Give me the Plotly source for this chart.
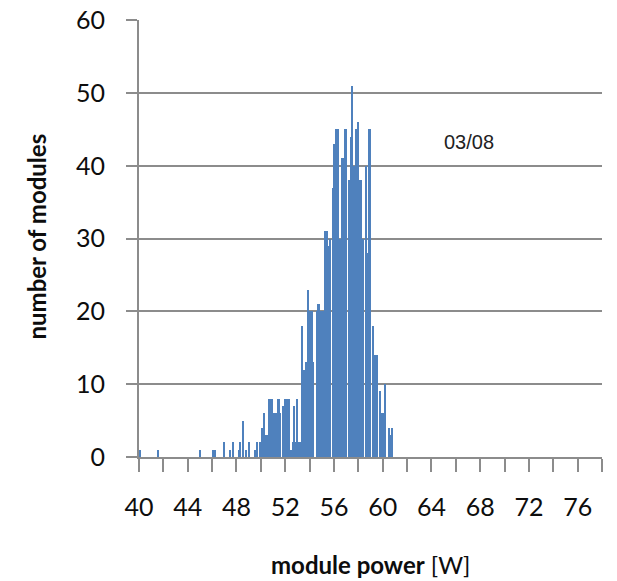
import plotly.graph_objects as go

# module power bins [W] (0.1 W resolution) and number of modules in each bin
power = [
    40.1, 41.6, 45.0, 46.1, 46.2, 47.0, 47.5, 47.7, 48.2, 48.3, 48.5, 48.8, 49.0,
    49.5, 49.6, 49.7, 49.9, 50.1, 50.3, 50.4, 50.5, 50.7, 50.8, 50.9, 51.0,
    51.2, 51.3, 51.4, 51.5, 51.6, 51.8, 51.9, 52.0, 52.1, 52.2, 52.3,
    52.5, 52.6, 52.7, 52.8, 52.9, 53.0, 53.1, 53.2, 53.4, 53.5, 53.6, 53.7,
    53.9, 54.0, 54.1, 54.2, 54.3, 54.6, 54.7, 54.8, 54.9, 55.0, 55.1,
    55.3, 55.4, 55.5, 55.6, 55.7, 55.9, 56.0, 56.1, 56.2, 56.3,
    56.5, 56.6, 56.7, 56.8, 56.9, 57.0, 57.2, 57.3, 57.4, 57.5, 57.6, 57.7,
    57.8, 57.9, 58.0, 58.1, 58.2, 58.4, 58.6, 58.7, 58.9, 59.0,
    59.2, 59.3, 59.4, 59.5, 59.8, 59.9, 60.0, 60.2, 60.5, 60.6, 60.7, 60.8,
]
modules = [
    1, 1, 1, 1, 1, 2, 1, 2, 1, 2, 5, 1, 2,
    1, 1, 2, 2, 4, 6, 3, 3, 8, 8, 8, 6,
    6, 6, 8, 8, 6, 7, 7, 8, 8, 8, 8,
    1, 2, 7, 2, 2, 8, 2, 2, 18, 12, 12, 13,
    23, 20, 20, 20, 13, 20, 21, 21, 20, 20, 20,
    31, 31, 29, 29, 30, 37, 43, 43, 45, 45,
    30, 30, 41, 41, 45, 45, 38, 38, 44, 51, 40, 40,
    45, 45, 46, 38, 38, 30, 40, 28, 45, 45,
    18, 13, 14, 14, 9, 6, 6, 10, 4, 3, 3, 4,
]

x_ticks = list(range(40, 80, 2))
x_labels = [str(v) if v % 4 == 0 else "" for v in x_ticks]
y_ticks = [0, 10, 20, 30, 40, 50, 60]

label_font = dict(family="Lato, Calibri, sans-serif", size=25, color="#0d0d0d")
grey = "#8c8c8c"

fig = go.Figure(
    go.Bar(
        x=power,
        y=modules,
        width=0.085,
        marker=dict(color="#4f81bd", line=dict(width=0)),
    )
)

fig.update_layout(
    width=617,
    height=581,
    margin=dict(l=139, r=15, t=20, b=124, autoexpand=False),
    paper_bgcolor="white",
    plot_bgcolor="white",
    showlegend=False,
    bargap=0,
    annotations=[
        dict(text="03/08", x=67.1, y=43.2, xref="x", yref="y", showarrow=False,
             font=dict(family="Liberation Sans, Arial, sans-serif", size=20, color="#222222")),
        dict(text="<b>number of modules</b>", x=-0.222, y=0.505, xref="paper", yref="paper",
             textangle=-90, showarrow=False, xanchor="center", yanchor="middle",
             font=dict(family="Lato, Calibri, sans-serif", size=24, color="#0d0d0d")),
        dict(text="<b>module power</b> [W]", x=0.5, y=-0.245, xref="paper", yref="paper",
             showarrow=False, xanchor="center", yanchor="middle",
             font=dict(family="Lato, Calibri, sans-serif", size=24, color="#0d0d0d")),
    ],
)

fig.update_xaxes(
    range=[40, 78],
    automargin=False,
    tickmode="array",
    tickvals=x_ticks,
    ticktext=x_labels,
    ticks="outside",
    ticklen=13,
    tickwidth=1.5,
    tickcolor=grey,
    showline=True,
    linecolor=grey,
    linewidth=2,
    showgrid=False,
    zeroline=False,
    tickfont=label_font,
    ticklabelstandoff=14,
    ticklabeloverflow="allow",
)

fig.update_yaxes(
    range=[0, 60.02],
    automargin=False,
    tickmode="array",
    tickvals=y_ticks,
    ticks="outside",
    ticklen=11,
    tickwidth=1.5,
    tickcolor=grey,
    showline=True,
    linecolor=grey,
    linewidth=2,
    showgrid=True,
    gridcolor=grey,
    gridwidth=2,
    zeroline=False,
    tickfont=label_font,
    ticklabelstandoff=16,
    ticklabeloverflow="allow",
)

# remove the default page margin so the figure fills the window exactly
fig.write_html(
    "out.html",
    config={"displayModeBar": False},
    post_script="document.body.style.margin='0px';",
)
